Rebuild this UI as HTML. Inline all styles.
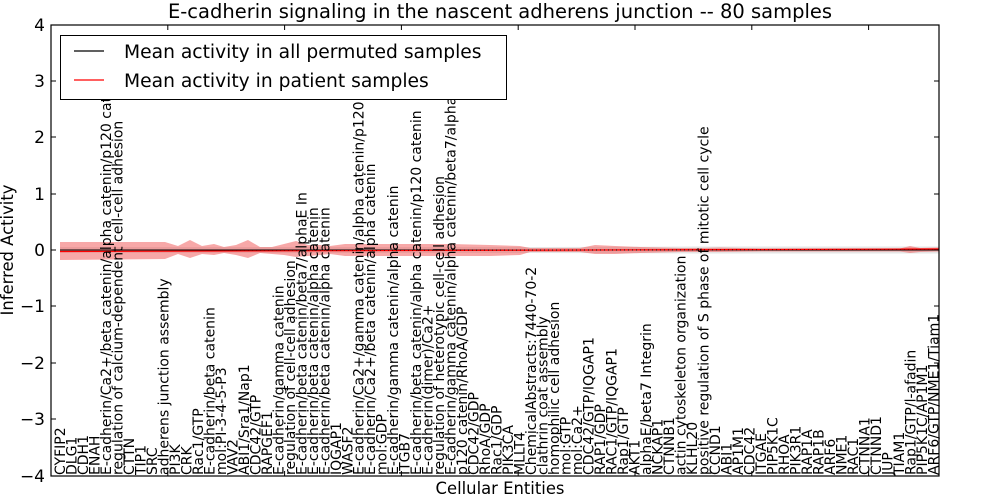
<!DOCTYPE html>
<html><head><meta charset="utf-8"><style>
html,body{margin:0;padding:0;background:#fff;}
svg{display:block;font-family:"DejaVu Sans","Liberation Sans",sans-serif;}
.l{font-size:14px;fill:#000;}
</style></head><body>
<svg width="1000" height="500" viewBox="0 0 1000 500" xmlns="http://www.w3.org/2000/svg">
<rect width="1000" height="500" fill="#fff"/>
<polygon fill="#ccc" fill-opacity="0.5" points="60,247 530,247 700,246.5 939,246.5 939,253.5 700,253.5 530,253 60,253"/>
<polygon fill="#f06060" fill-opacity="0.55" points="60,242 165,242 178,246 190,240 202,246 214,244 224,247 236,245 248,240 260,247 272,247 284,244 296,241 308,245 320,245 330,246 345,244 360,244 400,244 450,244 490,245 520,246 530,248 580,248 595,245 615,246 640,247 680,248 700,248 720,247.5 760,248.5 900,248.5 910,246 920,248 939,247.5 939,251.5 920,252 910,253 900,251.5 760,251.5 720,252 700,252 680,252 640,253 615,254 595,254 580,252 530,252 520,255 490,256 450,256 400,256 360,256 345,256 330,254 320,255 308,256 296,257 284,255 272,254 260,253 248,258 236,255 224,253 214,255 202,254 190,258 178,254 165,259 60,260"/>
<line x1="60" y1="250" x2="939" y2="250" stroke="#000" stroke-width="1"/>
<line x1="60" y1="251.5" x2="939" y2="249" stroke="#ff0000" stroke-width="1.2"/>
<line x1="60" y1="250" x2="939" y2="250" stroke="#000" stroke-width="1" stroke-dasharray="1,3"/>
<g class="l">
<text transform="translate(65,475) rotate(-90)">CYFIP2</text>
<text transform="translate(76.5,475) rotate(-90)">DLG1</text>
<text transform="translate(88,475) rotate(-90)">CDH1</text>
<text transform="translate(99.5,475) rotate(-90)">ENAH</text>
<text transform="translate(111,475) rotate(-90)">E-cadherin/Ca2+/beta catenin/alpha catenin/p120 cat</text>
<text transform="translate(122.4,475) rotate(-90)">regulation of calcium-dependent cell-cell adhesion</text>
<text transform="translate(133.9,475) rotate(-90)">CTTN</text>
<text transform="translate(145.4,475) rotate(-90)">TIP1</text>
<text transform="translate(156.9,475) rotate(-90)">SRC</text>
<text transform="translate(168.4,475) rotate(-90)">adherens junction assembly</text>
<text transform="translate(179.9,475) rotate(-90)">PI3K</text>
<text transform="translate(191.4,475) rotate(-90)">CRK</text>
<text transform="translate(202.9,475) rotate(-90)">Rac1/GTP</text>
<text transform="translate(214.4,475) rotate(-90)">E-cadherin/beta catenin</text>
<text transform="translate(225.9,475) rotate(-90)">mol:PI-3-4-5-P3</text>
<text transform="translate(237.4,475) rotate(-90)">VAV2</text>
<text transform="translate(248.8,475) rotate(-90)">ABI1/Sra1/Nap1</text>
<text transform="translate(260.3,475) rotate(-90)">CDC42/GTP</text>
<text transform="translate(271.8,475) rotate(-90)">RAPGEF1</text>
<text transform="translate(283.3,475) rotate(-90)">E-cadherin/gamma catenin</text>
<text transform="translate(294.8,475) rotate(-90)">regulation of cell-cell adhesion</text>
<text transform="translate(306.3,475) rotate(-90)">E-cadherin/beta catenin/beta7/alphaE In</text>
<text transform="translate(317.8,475) rotate(-90)">E-cadherin/beta catenin/alpha catenin</text>
<text transform="translate(329.3,475) rotate(-90)">E-cadherin/beta catenin/alpha catenin</text>
<text transform="translate(340.8,475) rotate(-90)">IQGAP1</text>
<text transform="translate(352.3,475) rotate(-90)">WASF2</text>
<text transform="translate(363.7,475) rotate(-90)">E-cadherin/Ca2+/gamma catenin/alpha catenin/p120</text>
<text transform="translate(375.2,475) rotate(-90)">E-cadherin/Ca2+/beta catenin/alpha catenin</text>
<text transform="translate(386.7,475) rotate(-90)">mol:GDP</text>
<text transform="translate(398.2,475) rotate(-90)">E-cadherin/gamma catenin/alpha catenin</text>
<text transform="translate(409.7,475) rotate(-90)">ITGB7</text>
<text transform="translate(421.2,475) rotate(-90)">E-cadherin/beta catenin/alpha catenin/p120 catenin</text>
<text transform="translate(432.7,475) rotate(-90)">E-cadherin(dimer)/Ca2+</text>
<text transform="translate(444.2,475) rotate(-90)">regulation of heterotypic cell-cell adhesion</text>
<text transform="translate(455.7,475) rotate(-90)">E-cadherin/gamma catenin/alpha catenin/beta7/alpha</text>
<text transform="translate(467.2,475) rotate(-90)">p120 catenin/RhoA/GDP</text>
<text transform="translate(478.6,475) rotate(-90)">CDC42/GDP</text>
<text transform="translate(490.1,475) rotate(-90)">RhoA/GDP</text>
<text transform="translate(501.6,475) rotate(-90)">Rac1/GDP</text>
<text transform="translate(513.1,475) rotate(-90)">PIK3CA</text>
<text transform="translate(524.6,475) rotate(-90)">MLLT4</text>
<text transform="translate(536.1,475) rotate(-90)">ChemicalAbstracts:7440-70-2</text>
<text transform="translate(547.6,475) rotate(-90)">clathrin coat assembly</text>
<text transform="translate(559.1,475) rotate(-90)">homophilic cell adhesion</text>
<text transform="translate(570.6,475) rotate(-90)">mol:GTP</text>
<text transform="translate(582.1,475) rotate(-90)">mol:Ca2+</text>
<text transform="translate(593.5,475) rotate(-90)">CDC42/GTP/IQGAP1</text>
<text transform="translate(605,475) rotate(-90)">RAP1/GDP</text>
<text transform="translate(616.5,475) rotate(-90)">RAC1/GTP/IQGAP1</text>
<text transform="translate(628,475) rotate(-90)">Rap1/GTP</text>
<text transform="translate(639.5,475) rotate(-90)">AKT1</text>
<text transform="translate(651,475) rotate(-90)">alphaE/beta7 Integrin</text>
<text transform="translate(662.5,475) rotate(-90)">NCKAP1</text>
<text transform="translate(674,475) rotate(-90)">CTNNB1</text>
<text transform="translate(685.5,475) rotate(-90)">actin cytoskeleton organization</text>
<text transform="translate(697,475) rotate(-90)">KLHL20</text>
<text transform="translate(708.4,475) rotate(-90)">positive regulation of S phase of mitotic cell cycle</text>
<text transform="translate(719.9,475) rotate(-90)">CCND1</text>
<text transform="translate(731.4,475) rotate(-90)">ABI1</text>
<text transform="translate(742.9,475) rotate(-90)">AP1M1</text>
<text transform="translate(754.4,475) rotate(-90)">CDC42</text>
<text transform="translate(765.9,475) rotate(-90)">ITGAE</text>
<text transform="translate(777.4,475) rotate(-90)">PIP5K1C</text>
<text transform="translate(788.9,475) rotate(-90)">RHOA</text>
<text transform="translate(800.4,475) rotate(-90)">PIK3R1</text>
<text transform="translate(811.9,475) rotate(-90)">RAP1A</text>
<text transform="translate(823.3,475) rotate(-90)">RAP1B</text>
<text transform="translate(834.8,475) rotate(-90)">ARF6</text>
<text transform="translate(846.3,475) rotate(-90)">NME1</text>
<text transform="translate(857.8,475) rotate(-90)">RAC1</text>
<text transform="translate(869.3,475) rotate(-90)">CTNNA1</text>
<text transform="translate(880.8,475) rotate(-90)">CTNND1</text>
<text transform="translate(892.3,475) rotate(-90)">JUP</text>
<text transform="translate(903.8,475) rotate(-90)">TIAM1</text>
<text transform="translate(915.3,475) rotate(-90)">Rap1/GTP/l-afadin</text>
<text transform="translate(926.8,475) rotate(-90)">PIP5K1C/AP1M1</text>
<text transform="translate(938.3,475) rotate(-90)">ARF6/GTP/NME1/Tiam1</text>
</g>
<g stroke="#000" stroke-width="1">
<path d="M51,25h5M51,81h5M51,137h5M51,194h5M51,250h5M51,306h5M51,363h5M51,419h5"/>
<path d="M939,25h-5M939,81h-5M939,137h-5M939,194h-5M939,250h-5M939,306h-5M939,363h-5M939,419h-5"/>
<path d="M167.8,25v5M284.6,25v5M401.4,25v5M518.2,25v5M635,25v5M751.8,25v5M868.6,25v5M167.8,476v-5M284.6,476v-5M401.4,476v-5M518.2,476v-5M635,476v-5M751.8,476v-5M868.6,476v-5"/>
</g>
<rect x="51" y="25" width="888" height="451" fill="none" stroke="#000" stroke-width="1.2"/>
<g font-size="17" text-anchor="end">
<text x="45" y="31">4</text>
<text x="45" y="87">3</text>
<text x="45" y="143">2</text>
<text x="45" y="200">1</text>
<text x="45" y="256">0</text>
<text x="45" y="312">−1</text>
<text x="45" y="369">−2</text>
<text x="45" y="425">−3</text>
<text x="45" y="482">−4</text>
</g>
<rect x="60.5" y="35.5" width="446" height="64" fill="#fff" stroke="#000" stroke-width="1"/>
<line x1="74" y1="51" x2="104" y2="51" stroke="#000" stroke-width="1.2"/>
<line x1="74" y1="80" x2="104" y2="80" stroke="#ff0000" stroke-width="1.2"/>
<text x="124" y="58" font-size="18.7">Mean activity in all permuted samples</text>
<text x="124" y="87" font-size="18.7">Mean activity in patient samples</text>
<text x="500" y="18" font-size="19.5" text-anchor="middle">E-cadherin signaling in the nascent adherens junction -- 80 samples</text>
<text x="500" y="494" font-size="16.4" text-anchor="middle">Cellular Entities</text>
<text transform="translate(13,250) rotate(-90)" font-size="16.4" text-anchor="middle">Inferred Activity</text>
</svg>
</body></html>
